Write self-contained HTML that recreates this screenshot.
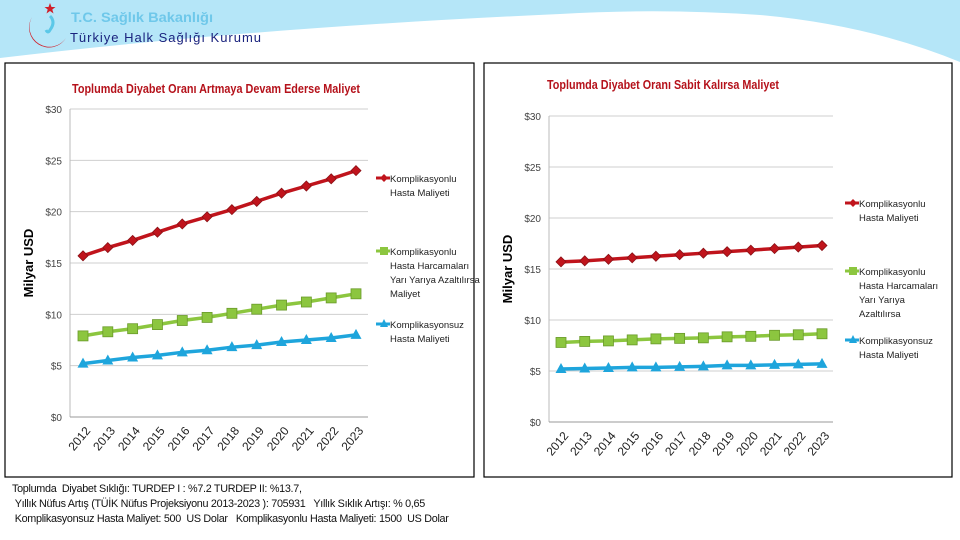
<!DOCTYPE html>
<html><head><meta charset="utf-8"><style>
body{margin:0;width:960px;height:540px;overflow:hidden;background:#fff;font-family:"Liberation Sans",sans-serif;position:relative}
svg{position:absolute;left:0;top:0}
.foot{position:absolute;left:12px;top:482px;font-size:10.8px;line-height:15px;color:#111;font-family:"Liberation Sans Narrow","Liberation Sans",sans-serif;letter-spacing:-0.3px}
</style></head><body>
<svg width="960" height="540">
<path d="M0 0 H960 V62 Q870 25 760 15 Q660 8 560 14 Q250 28 0 58 Z" fill="#b5e6f8"/>
<g>
<path d="M32 17 A20 20 0 0 0 66 38 A17 17 0 0 1 32 17 Z" fill="#d0202a"/>
<polygon points="50,3 51.5,7 55.5,7 52.3,9.5 53.5,13.5 50,11 46.5,13.5 47.7,9.5 44.5,7 48.5,7" fill="#d0202a"/>
<path d="M50 16 Q56 22 50 30 Q48 34 46 30" stroke="#5bc8e8" stroke-width="3" fill="none"/>
</g>
<text x="71" y="22" font-size="14" fill="#6fc8ea" font-weight="bold" textLength="142" lengthAdjust="spacingAndGlyphs">T.C. Sağlık Bakanlığı</text>
<text x="70" y="42" font-size="13" fill="#1a237e" textLength="191" lengthAdjust="spacing">Türkiye Halk Sağlığı Kurumu</text>
<g id="c1"></g><g id="c2"></g>
</svg>
<div class="foot">Toplumda&nbsp; Diyabet Sıklığı: TURDEP I : %7.2 TURDEP II: %13.7,<br>&nbsp;Yıllık Nüfus Artış (TÜİK Nüfus Projeksiyonu 2013-2023 ): 705931&nbsp;&nbsp; Yıllık Sıklık Artışı: % 0,65<br>&nbsp;Komplikasyonsuz Hasta Maliyet: 500&nbsp; US Dolar&nbsp;&nbsp; Komplikasyonlu Hasta Maliyeti: 1500&nbsp; US Dolar</div>
<script>
const years=["2012","2013","2014","2015","2016","2017","2018","2019","2020","2021","2022","2023"];
const yTicks=[0,5,10,15,20,25,30];
const leftRed=[15.7,16.5,17.2,18.0,18.8,19.5,20.2,21.0,21.8,22.5,23.2,24.0];
const leftGreen=[7.9,8.3,8.6,9.0,9.4,9.7,10.1,10.5,10.9,11.2,11.6,12.0];
const leftBlue=[5.2,5.5,5.8,6.0,6.3,6.5,6.8,7.0,7.3,7.5,7.7,8.0];
const rightRed=[15.7,15.8,15.95,16.1,16.25,16.4,16.55,16.7,16.85,17.0,17.15,17.3];
const rightGreen=[7.8,7.9,7.95,8.05,8.15,8.2,8.25,8.35,8.4,8.5,8.55,8.65];
const rightBlue=[5.2,5.25,5.3,5.35,5.35,5.4,5.45,5.55,5.55,5.6,5.65,5.7];
const NS="http://www.w3.org/2000/svg";
function mk(p,t,a,txt){const e=document.createElementNS(NS,t);for(const k in a)e.setAttribute(k,a[k]);if(txt!==undefined)e.textContent=txt;p.appendChild(e);return e;}
function chart(g,cfg){
 const f=mk(g,'rect',{x:cfg.fx,y:63,width:cfg.fw,height:414,fill:'#fff',stroke:'#000','stroke-width':1.2});
 
 
 const y=v=>cfg.y0+(cfg.y30-cfg.y0)*v/30;
 const x=i=>cfg.xa+(cfg.xb-cfg.xa)*i/(years.length-1);
 const t=mk(g,'text',{x:cfg.tx,y:cfg.ty,'font-size':13,'font-weight':'bold',fill:'#b5121b',textLength:cfg.tw,lengthAdjust:'spacingAndGlyphs'},cfg.title);
 
 
 yTicks.forEach(v=>{
  if(v>0){const l=mk(g,'line',{x1:cfg.px0,x2:cfg.px1,y1:y(v),y2:y(v),stroke:'#cfcfcf','stroke-width':1});
  
  }
  const tl=mk(g,'text',{x:cfg.px0-8,y:y(v)+4,'font-size':10,fill:'#444','text-anchor':'end'},'$'+v);
  
  
 });
 mk(g,'line',{x1:cfg.px0,x2:cfg.px0,y1:y(30),y2:y(0),stroke:'#bbb'});
 mk(g,'line',{x1:cfg.px0,x2:cfg.px1,y1:y(0),y2:y(0),stroke:'#999'});
 const yt=mk(g,'text',{x:0,y:0,'font-size':13,'font-weight':'bold',fill:'#000','text-anchor':'middle',transform:`translate(${cfg.fx+28},${(y(0)+y(30))/2}) rotate(-90)`},'Milyar USD');
 
 
 years.forEach((yr,i)=>{
  const xl=mk(g,'text',{x:0,y:0,'font-size':12,fill:'#222','text-anchor':'end',transform:`translate(${x(i)+8},${y(0)+14}) rotate(-50)`},yr);
  
  
 });
 const series=[[cfg.red,'#c0141c','diamond','red'],[cfg.green,'#8cc63f','square','green'],[cfg.blue,'#1ea5dc','triangle','blue']];
 series.forEach(([d,c,m,nm])=>{
  const pl=mk(g,'polyline',{points:d.map((v,i)=>x(i)+','+y(v)).join(' '),fill:'none',stroke:c,'stroke-width':3.5});
  
  
  d.forEach((v,i)=>{
   const cx=x(i),cy=y(v);let e;
   if(m==='diamond')e=mk(g,'polygon',{points:`${cx},${cy-5} ${cx+5},${cy} ${cx},${cy+5} ${cx-5},${cy}`,fill:c,stroke:'#8a1015','stroke-width':0.8});
   else if(m==='square')e=mk(g,'rect',{x:cx-5,y:cy-5,width:10,height:10,fill:c,stroke:'#6a9a2a','stroke-width':0.8});
   else e=mk(g,'polygon',{points:`${cx},${cy-6} ${cx+5.5},${cy+4} ${cx-5.5},${cy+4}`,fill:c});
   
   
  });
 });
 cfg.legend.forEach(([lines,yy,c,m])=>{
  const lx=cfg.lx;
  mk(g,'line',{x1:lx,x2:lx+14,y1:yy,y2:yy,stroke:c,'stroke-width':3});
  if(m==='diamond')mk(g,'polygon',{points:`${lx+8},${yy-4} ${lx+12},${yy} ${lx+8},${yy+4} ${lx+4},${yy}`,fill:c});
  else if(m==='square')mk(g,'rect',{x:lx+4,y:yy-4,width:8,height:8,fill:c});
  else mk(g,'polygon',{points:`${lx+8},${yy-5} ${lx+12},${yy+3} ${lx+4},${yy+3}`,fill:c});
  lines.forEach((s,k)=>{
   const lt=mk(g,'text',{x:lx+14,y:yy+4+k*14,'font-size':9.5,fill:'#222'},s);
   
   
  });
 });
}
chart(document.getElementById('c1'),{id:'left-chart',fx:5,fw:469,y0:417,y30:109,xa:83,xb:356,px0:70,px1:368,tx:72,ty:93,tw:288,
 title:'Toplumda Diyabet Oranı Artmaya Devam Ederse Maliyet',red:leftRed,green:leftGreen,blue:leftBlue,lx:376,
 legend:[[['Komplikasyonlu','Hasta Maliyeti'],178,'#c0141c','diamond'],[['Komplikasyonlu','Hasta Harcamaları','Yarı Yarıya Azaltılırsa','Maliyet'],251,'#8cc63f','square'],[['Komplikasyonsuz','Hasta Maliyeti'],324,'#1ea5dc','triangle']]});
chart(document.getElementById('c2'),{id:'right-chart',fx:484,fw:468,y0:422,y30:116,xa:561,xb:822,px0:549,px1:833,tx:547,ty:89,tw:232,
 title:'Toplumda Diyabet Oranı Sabit Kalırsa Maliyet',red:rightRed,green:rightGreen,blue:rightBlue,lx:845,
 legend:[[['Komplikasyonlu','Hasta Maliyeti'],203,'#c0141c','diamond'],[['Komplikasyonlu','Hasta Harcamaları','Yarı Yarıya','Azaltılırsa'],271,'#8cc63f','square'],[['Komplikasyonsuz','Hasta Maliyeti'],340,'#1ea5dc','triangle']]});
</script>
</body></html>
